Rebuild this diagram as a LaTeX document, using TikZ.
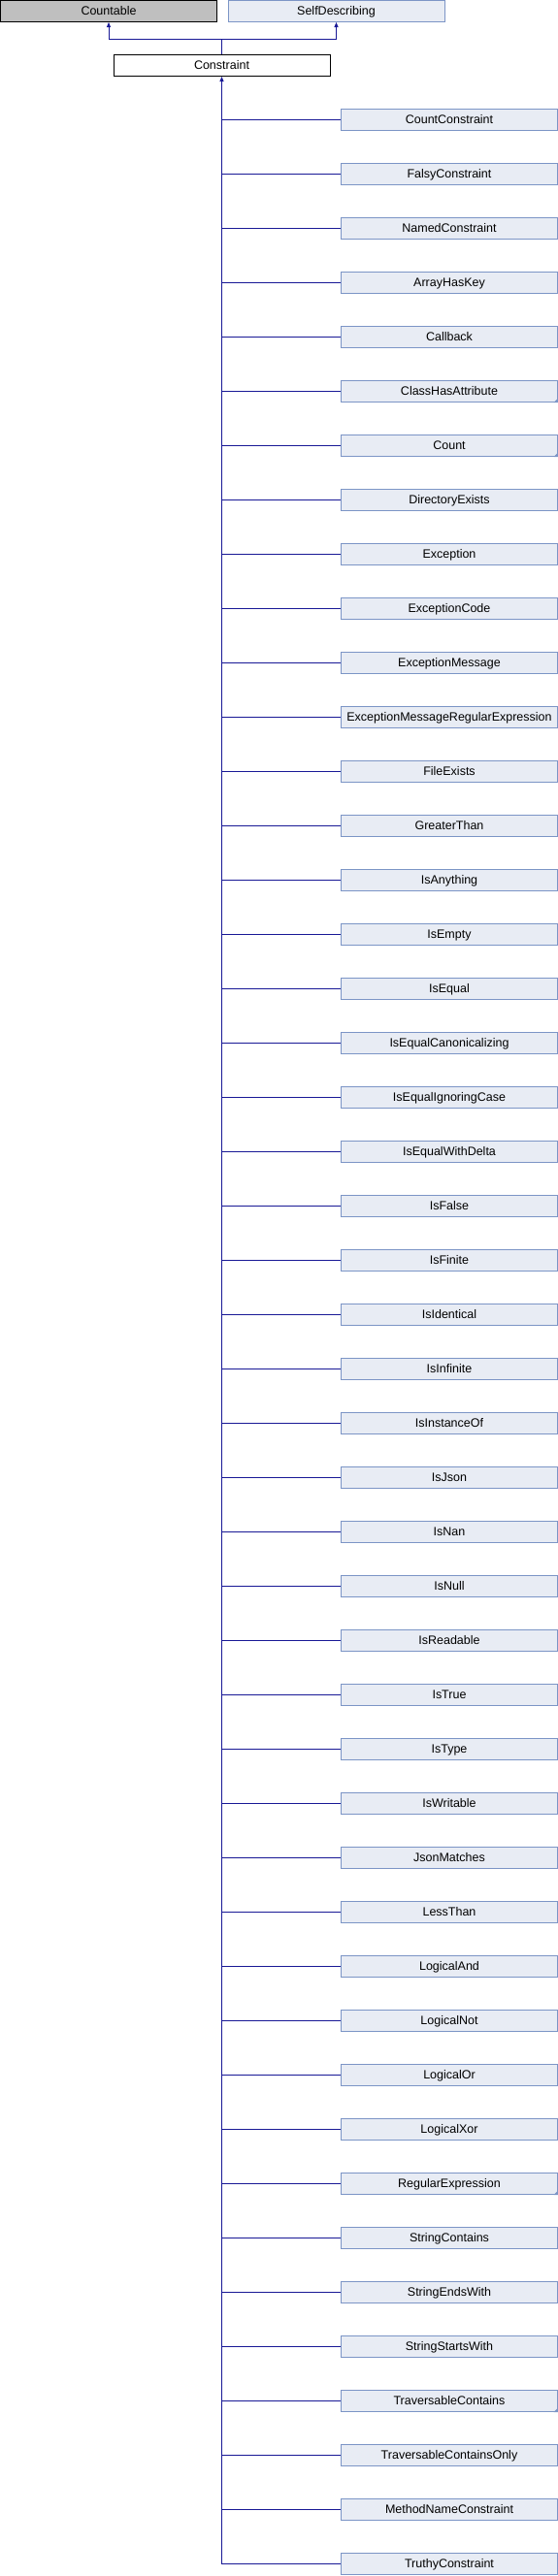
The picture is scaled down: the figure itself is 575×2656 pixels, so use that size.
\documentclass[tikz,border=0pt]{standalone}
\usepackage{fontspec}
\setmainfont{Liberation Sans}
\usetikzlibrary{calc, arrows.meta}
\definecolor{edgeblue}{RGB}{25,25,150}
\definecolor{boxfill}{RGB}{232,236,244}
\definecolor{boxline}{RGB}{124,149,198}
\definecolor{extfill}{RGB}{191,191,191}
\tikzset{
    cls/.style={draw,line width=1pt,inner sep=0pt,minimum height=22pt,minimum width=223pt,
        text height=10pt,text depth=2.5pt,font=\fontsize{12.5}{15}\selectfont},
    doc/.style={cls,draw=boxline,fill=boxfill},
    inh/.style={draw=edgeblue,line width=1pt},
    tip/.style={-{Triangle[length=5pt,width=4pt]}},
    fold/.pic={
        \fill[boxline] (0pt,0pt)--(-4.5pt,0pt)--(0pt,4.5pt)--cycle;
    },
}

\begin{document}
\begin{tikzpicture}[x=1pt,y=-1pt]
            \useasboundingbox (0,0) rectangle (575,2656);
            \node[cls,fill=extfill] (Countable) at (112,11.5){Countable};
            \node[doc] (SelfDescribing) at (346.5,11.5){SelfDescribing};
            \node[cls,fill=white] (Constraint) at (228.5,67.5){Constraint};
            \coordinate (split) at (228.5,40.5);
            \draw[inh,tip] (Constraint.north)--(split)-|(Countable.south);
            \draw[inh,tip] (Constraint.north)--(split)-|(SelfDescribing.south);
            \foreach \cls [count=\i] in {CountConstraint, FalsyConstraint, NamedConstraint, ArrayHasKey,
                Callback, ClassHasAttribute, Count, DirectoryExists, Exception, ExceptionCode,
                ExceptionMessage, ExceptionMessageRegularExpression, FileExists, GreaterThan,
                IsAnything, IsEmpty, IsEqual, IsEqualCanonicalizing, IsEqualIgnoringCase,
                IsEqualWithDelta, IsFalse, IsFinite, IsIdentical, IsInfinite, IsInstanceOf,
                IsJson, IsNan, IsNull, IsReadable, IsTrue, IsType, IsWritable, JsonMatches,
                LessThan, LogicalAnd, LogicalNot, LogicalOr, LogicalXor, RegularExpression,
                StringContains, StringEndsWith, StringStartsWith, TraversableContains,
                TraversableContainsOnly, MethodNameConstraint, TruthyConstraint}{
                \node[doc] (\cls) at (463,{123.5+56*(\i-1)}){\cls};
                \draw[inh] (Constraint.south |- \cls.west)--(\cls.west);
            }
            \draw[inh,tip] (Constraint.south |- TruthyConstraint.west)--(Constraint.south);
            \pic at (ClassHasAttribute.south east) {fold};
            \pic at (Count.south east) {fold};
            \pic at (RegularExpression.south east) {fold};
            \pic at (TraversableContains.south east) {fold};
        \end{tikzpicture}
\end{document}
